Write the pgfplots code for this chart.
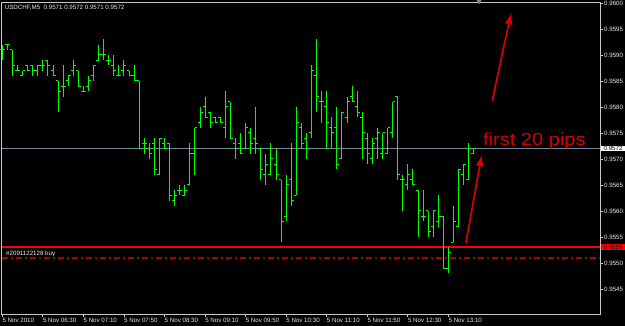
\documentclass[border=0pt]{standalone}
\usepackage{fontspec}
\setmainfont{Liberation Sans}
\usepackage{pgfplots}
\pgfplotsset{compat=1.18}
\usepackage{pgfplotstable}
\usetikzlibrary{arrows.meta}
\definecolor{barc}{RGB}{0,255,0}
\definecolor{framec}{RGB}{200,200,200}
\definecolor{txt}{RGB}{235,235,235}
\definecolor{bidline}{RGB}{119,136,153}
\definecolor{ann}{RGB}{215,0,0}
\definecolor{ordr}{RGB}{175,0,0}
\pgfdeclareplotmark{openl}{\pgfpathmoveto{\pgfpoint{-2.5bp}{0pt}}\pgfpathlineto{\pgfpoint{0pt}{0pt}}\pgfusepathqstroke}
\pgfdeclareplotmark{closer}{\pgfpathmoveto{\pgfpoint{0pt}{0pt}}\pgfpathlineto{\pgfpoint{2.5bp}{0pt}}\pgfusepathqstroke}
\pgfplotstableread{
i O H L C
0 0.9591 0.9592 0.9589 0.9591
1 0.9592 0.9592 0.9591 0.9592
2 0.9591 0.9591 0.9586 0.9588
3 0.9587 0.9588 0.9587 0.9587
4 0.9586 0.9587 0.9586 0.9587
5 0.9588 0.9588 0.9587 0.9587
6 0.9588 0.9588 0.9586 0.9587
7 0.9587 0.9588 0.9586 0.9588
8 0.9588 0.9589 0.9587 0.9588
9 0.9589 0.9589 0.9586 0.9588
10 0.9587 0.9588 0.9586 0.9586
11 0.9585 0.9585 0.9579 0.9583
12 0.9584 0.9588 0.9582 0.9584
13 0.9585 0.9586 0.9584 0.9586
14 0.9587 0.9589 0.9586 0.9588
15 0.9587 0.9587 0.9584 0.9584
16 0.9583 0.9584 0.9583 0.9583
17 0.9584 0.9586 0.9583 0.9585
18 0.9586 0.9588 0.9585 0.9588
19 0.9589 0.9592 0.9589 0.9590
20 0.9590 0.9593 0.9589 0.9590
21 0.9589 0.9590 0.9588 0.9589
22 0.9588 0.9590 0.9586 0.9587
23 0.9586 0.9588 0.9586 0.9586
24 0.9587 0.9589 0.9586 0.9588
25 0.9587 0.9587 0.9586 0.9586
26 0.9586 0.9588 0.9585 0.9585
27 0.9585 0.9585 0.9572 0.9572
28 0.9573 0.9574 0.9571 0.9573
29 0.9572 0.9573 0.9570 0.9571
30 0.9573 0.9574 0.9567 0.9568
31 0.9567 0.9574 0.9567 0.9574
32 0.9573 0.9574 0.9572 0.9572
33 0.9573 0.9573 0.9562 0.9563
34 0.9562 0.9564 0.9561 0.9563
35 0.9564 0.9565 0.9563 0.9564
36 0.9563 0.9565 0.9563 0.9564
37 0.9565 0.9573 0.9565 0.9571
38 0.9571 0.9576 0.9567 0.9576
39 0.9577 0.9580 0.9576 0.9579
40 0.9580 0.9582 0.9578 0.9578
41 0.9579 0.9579 0.9576 0.9577
42 0.9578 0.9578 0.9577 0.9577
43 0.9578 0.9578 0.9577 0.9577
44 0.9576 0.9583 0.9574 0.9580
45 0.9581 0.9581 0.9574 0.9574
46 0.9573 0.9574 0.9570 0.9572
47 0.9573 0.9575 0.9571 0.9571
48 0.9572 0.9577 0.9572 0.9576
49 0.9575 0.9576 0.9571 0.9573
50 0.9574 0.9580 0.9571 0.9573
51 0.9572 0.9572 0.9566 0.9568
52 0.9567 0.9571 0.9565 0.9569
53 0.9567 0.9573 0.9567 0.9570
54 0.9569 0.9572 0.9566 0.9567
55 0.9566 0.9566 0.9554 0.9558
56 0.9559 0.9567 0.9558 0.9565
57 0.9566 0.9573 0.9561 0.9562
58 0.9563 0.9580 0.9563 0.9577
59 0.9576 0.9577 0.9572 0.9573
60 0.9574 0.9575 0.9570 0.9572
61 0.9575 0.9588 0.9574 0.9587
62 0.9586 0.9593 0.9579 0.9582
63 0.9581 0.9583 0.9577 0.9581
64 0.9580 0.9583 0.9572 0.9577
65 0.9576 0.9578 0.9572 0.9575
66 0.9576 0.9580 0.9568 0.9569
67 0.9570 0.9579 0.9570 0.9579
68 0.9578 0.9582 0.9577 0.9581
69 0.9582 0.9584 0.9581 0.9581
70 0.9580 0.9583 0.9578 0.9579
71 0.9578 0.9579 0.9570 0.9575
72 0.9574 0.9575 0.9569 0.9571
73 0.9570 0.9574 0.9569 0.9573
74 0.9574 0.9576 0.9570 0.9575
75 0.9571 0.9575 0.9570 0.9575
76 0.9571 0.9576 0.9571 0.9576
77 0.9575 0.9581 0.9574 0.9581
78 0.9582 0.9582 0.9566 0.9567
79 0.9566 0.9567 0.9560 0.9566
80 0.9565 0.9569 0.9564 0.9567
81 0.9566 0.9568 0.9565 0.9565
82 0.9564 0.9564 0.9555 0.9560
83 0.9559 0.9564 0.9558 0.9559
84 0.9560 0.9560 0.9555 0.9556
85 0.9557 0.9560 0.9555 0.9560
86 0.9558 0.9563 0.9557 0.9559
87 0.9559 0.9559 0.9549 0.9549
88 0.9549 0.9553 0.9548 0.9552
89 0.9554 0.9561 0.9554 0.9558
90 0.9557 0.9568 0.9557 0.9568
91 0.9567 0.9569 0.9565 0.9569
92 0.9566 0.9573 0.9566 0.9572
93 0.9571 0.9572 0.9571 0.9572
}\bars
\begin{document}
\begin{tikzpicture}
\useasboundingbox (0,0) rectangle (625bp,326bp);
\fill[black] (0,0) rectangle (625bp,326bp);
\begin{axis}[
  at={(1.5bp,12bp)}, anchor=south west, scale only axis,
  width=598.5bp, height=312bp,
  xmin=-0.16, xmax=117.9, ymin=0.954019, ymax=0.960019,
  clip mode=individual,
  axis line style={framec, line width=1bp},
  xtick={0,8,16,24,32,40,48,56,64,72,80,88},
  xticklabels={5 Nov 2010,5 Nov 06:30,5 Nov 07:10,5 Nov 07:50,5 Nov 08:30,5 Nov 09:10,5 Nov 09:50,5 Nov 10:30,5 Nov 11:10,5 Nov 11:50,5 Nov 12:30,5 Nov 13:10},
  ytick={0.9545,0.9550,0.9555,0.9560,0.9565,0.9570,0.9575,0.9580,0.9585,0.9590,0.9595,0.9600},
  xtick pos=bottom, ytick pos=right, yticklabel pos=right,
  tick align=outside, major tick length=3bp,
  tick style={framec, line width=0.8bp},
  ticklabel style={font=\fontsize{6.2}{7}\selectfont, text=txt, inner sep=0pt},
  xticklabel style={anchor=north west, yshift=-1bp},
  yticklabel style={anchor=west, xshift=1bp,
    /pgf/number format/.cd, fixed, fixed zerofill, precision=4, assume math mode=true},
  scaled y ticks=false,
]
\draw[bidline, line width=1bp] (axis cs:-0.16,0.9572) -- (axis cs:117.9,0.9572);
\draw[red, line width=2bp] (axis cs:-0.16,0.9553) -- (axis cs:117.9,0.9553);
\draw[ordr, line width=1.6bp, dash pattern=on 6bp off 3bp on 2bp off 3bp] (axis cs:-0.16,0.9551) -- (axis cs:117.9,0.9551);
\addplot[barc, only marks, mark=openl, mark options={line width=1bp},
  error bars/.cd, y dir=both, y explicit, error mark=none,
  error bar style={barc, line width=1bp}]
  table[x=i, y=O, y error plus expr=\thisrow{H}-\thisrow{O}, y error minus expr=\thisrow{O}-\thisrow{L}] {\bars};
\addplot[barc, only marks, mark=closer, mark options={line width=1bp}]
  table[x=i, y=C] {\bars};
\draw[ann, line width=1.7bp, -{Latex[length=11bp,width=8bp]}] (axis cs:91.46,0.95539) -- (axis cs:94.56,0.957077);
\draw[ann, line width=1.7bp, -{Latex[length=11bp,width=8bp]}] (axis cs:96.65,0.958121) -- (axis cs:100.33,0.959802);
\node[anchor=base west, inner sep=0pt, text=ann, font=\fontsize{17.5}{18}\selectfont, xscale=1.15] at (axis cs:94.8,0.957256) {first 20 pips};
\node[anchor=west, fill=white, text=black, inner sep=0pt, minimum width=24.3bp, minimum height=5.8bp, font=\fontsize{6.2}{6}\selectfont] at ([xshift=0.7bp]axis cs:117.9,0.9572) {0.9572};
\node[anchor=west, fill=red, text=black, inner sep=0pt, minimum width=24.3bp, minimum height=5.8bp, font=\fontsize{6.2}{6}\selectfont] at ([xshift=0.7bp]axis cs:117.9,0.9553) {0.9553};
\end{axis}
\node[anchor=base west, inner sep=0pt, text=txt, font=\fontsize{6.2}{7}\selectfont] at (4.7bp,316.7bp) {USDCHF,M5\ \ 0.9571 0.9572 0.9571 0.9572};
\node[anchor=base west, inner sep=0pt, text=txt, font=\fontsize{6.2}{7}\selectfont] at (6bp,70.5bp) {\#2091122128 buy};
\fill[bidline] (476.5bp,326bp) -- (481.5bp,326bp) -- (479bp,321.5bp) -- cycle;
\end{tikzpicture}
\end{document}
